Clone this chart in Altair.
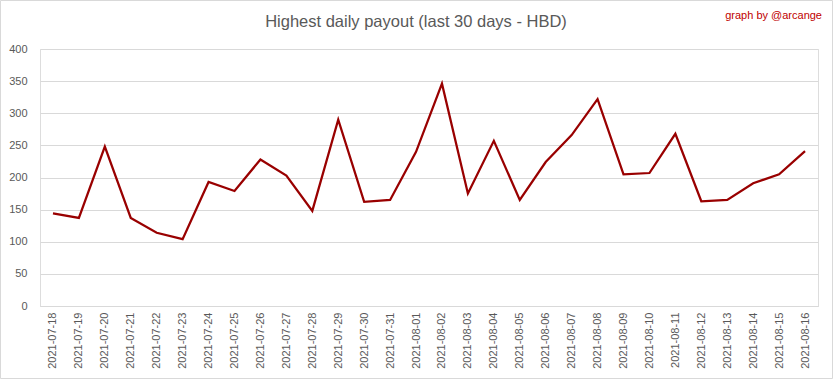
import altair as alt
import pandas as pd

dates = ["2021-07-18", "2021-07-19", "2021-07-20", "2021-07-21", "2021-07-22", "2021-07-23",
         "2021-07-24", "2021-07-25", "2021-07-26", "2021-07-27", "2021-07-28", "2021-07-29",
         "2021-07-30", "2021-07-31", "2021-08-01", "2021-08-02", "2021-08-03", "2021-08-04",
         "2021-08-05", "2021-08-06", "2021-08-07", "2021-08-08", "2021-08-09", "2021-08-10",
         "2021-08-11", "2021-08-12", "2021-08-13", "2021-08-14", "2021-08-15", "2021-08-16"]
payout = [144, 137, 248, 137, 114, 104, 193, 179, 228, 203, 148, 290, 162, 165, 240,
          346, 175, 257, 165, 224, 266, 322, 205, 207, 268, 163, 165, 191, 205, 241]

title_text = "Highest daily payout (last 30 days - HBD)"
credit_text = "graph by @arcange"

df = pd.DataFrame({"date": dates, "payout": payout})

FONT = "Liberation Sans"
GREY = "#595959"

line = alt.Chart(df).mark_line(color="#990000", strokeWidth=2.25).encode(
    x=alt.X("date:N", sort=None, title=None,
            scale=alt.Scale(type="point", padding=0.5),
            axis=alt.Axis(labelAngle=-90, labelFontSize=11, labelColor=GREY, labelFont=FONT,
                          ticks=False, domainColor="#d9d9d9", labelPadding=6, grid=False)),
    y=alt.Y("payout:Q", title=None,
            scale=alt.Scale(domain=[0, 400], nice=False),
            axis=alt.Axis(values=[0, 50, 100, 150, 200, 250, 300, 350, 400],
                          labelFontSize=11, labelColor=GREY, labelFont=FONT,
                          ticks=False, domain=False, gridColor="#d9d9d9", labelPadding=13)),
)

title = alt.Chart(pd.DataFrame({"t": [title_text]})).mark_text(
    font=FONT, fontSize=16.5, color=GREY, align="center", baseline="middle"
).encode(text="t:N", x=alt.value(376), y=alt.value(-27))

credit = alt.Chart(pd.DataFrame({"t": [credit_text]})).mark_text(
    font=FONT, fontSize=11, color="#c00000", align="right", baseline="middle"
).encode(text="t:N", x=alt.value(782), y=alt.value(-33))

border = alt.Chart(pd.DataFrame({"a": [0]})).mark_rect(
    fill=None, stroke="#d9d9d9", strokeWidth=1
).encode(x=alt.value(-39.5), x2=alt.value(792.5), y=alt.value(-48.5), y2=alt.value(329.5))

chart = alt.layer(border, line, title, credit).properties(
    width=778, height=257,
    autosize=alt.AutoSizeParams(type="none"),
    padding={"left": 40, "top": 49, "right": 15, "bottom": 73},
).configure_view(stroke=None).configure(background="white")

chart.save("out.html", embed_options={"renderer": "svg", "actions": False})
